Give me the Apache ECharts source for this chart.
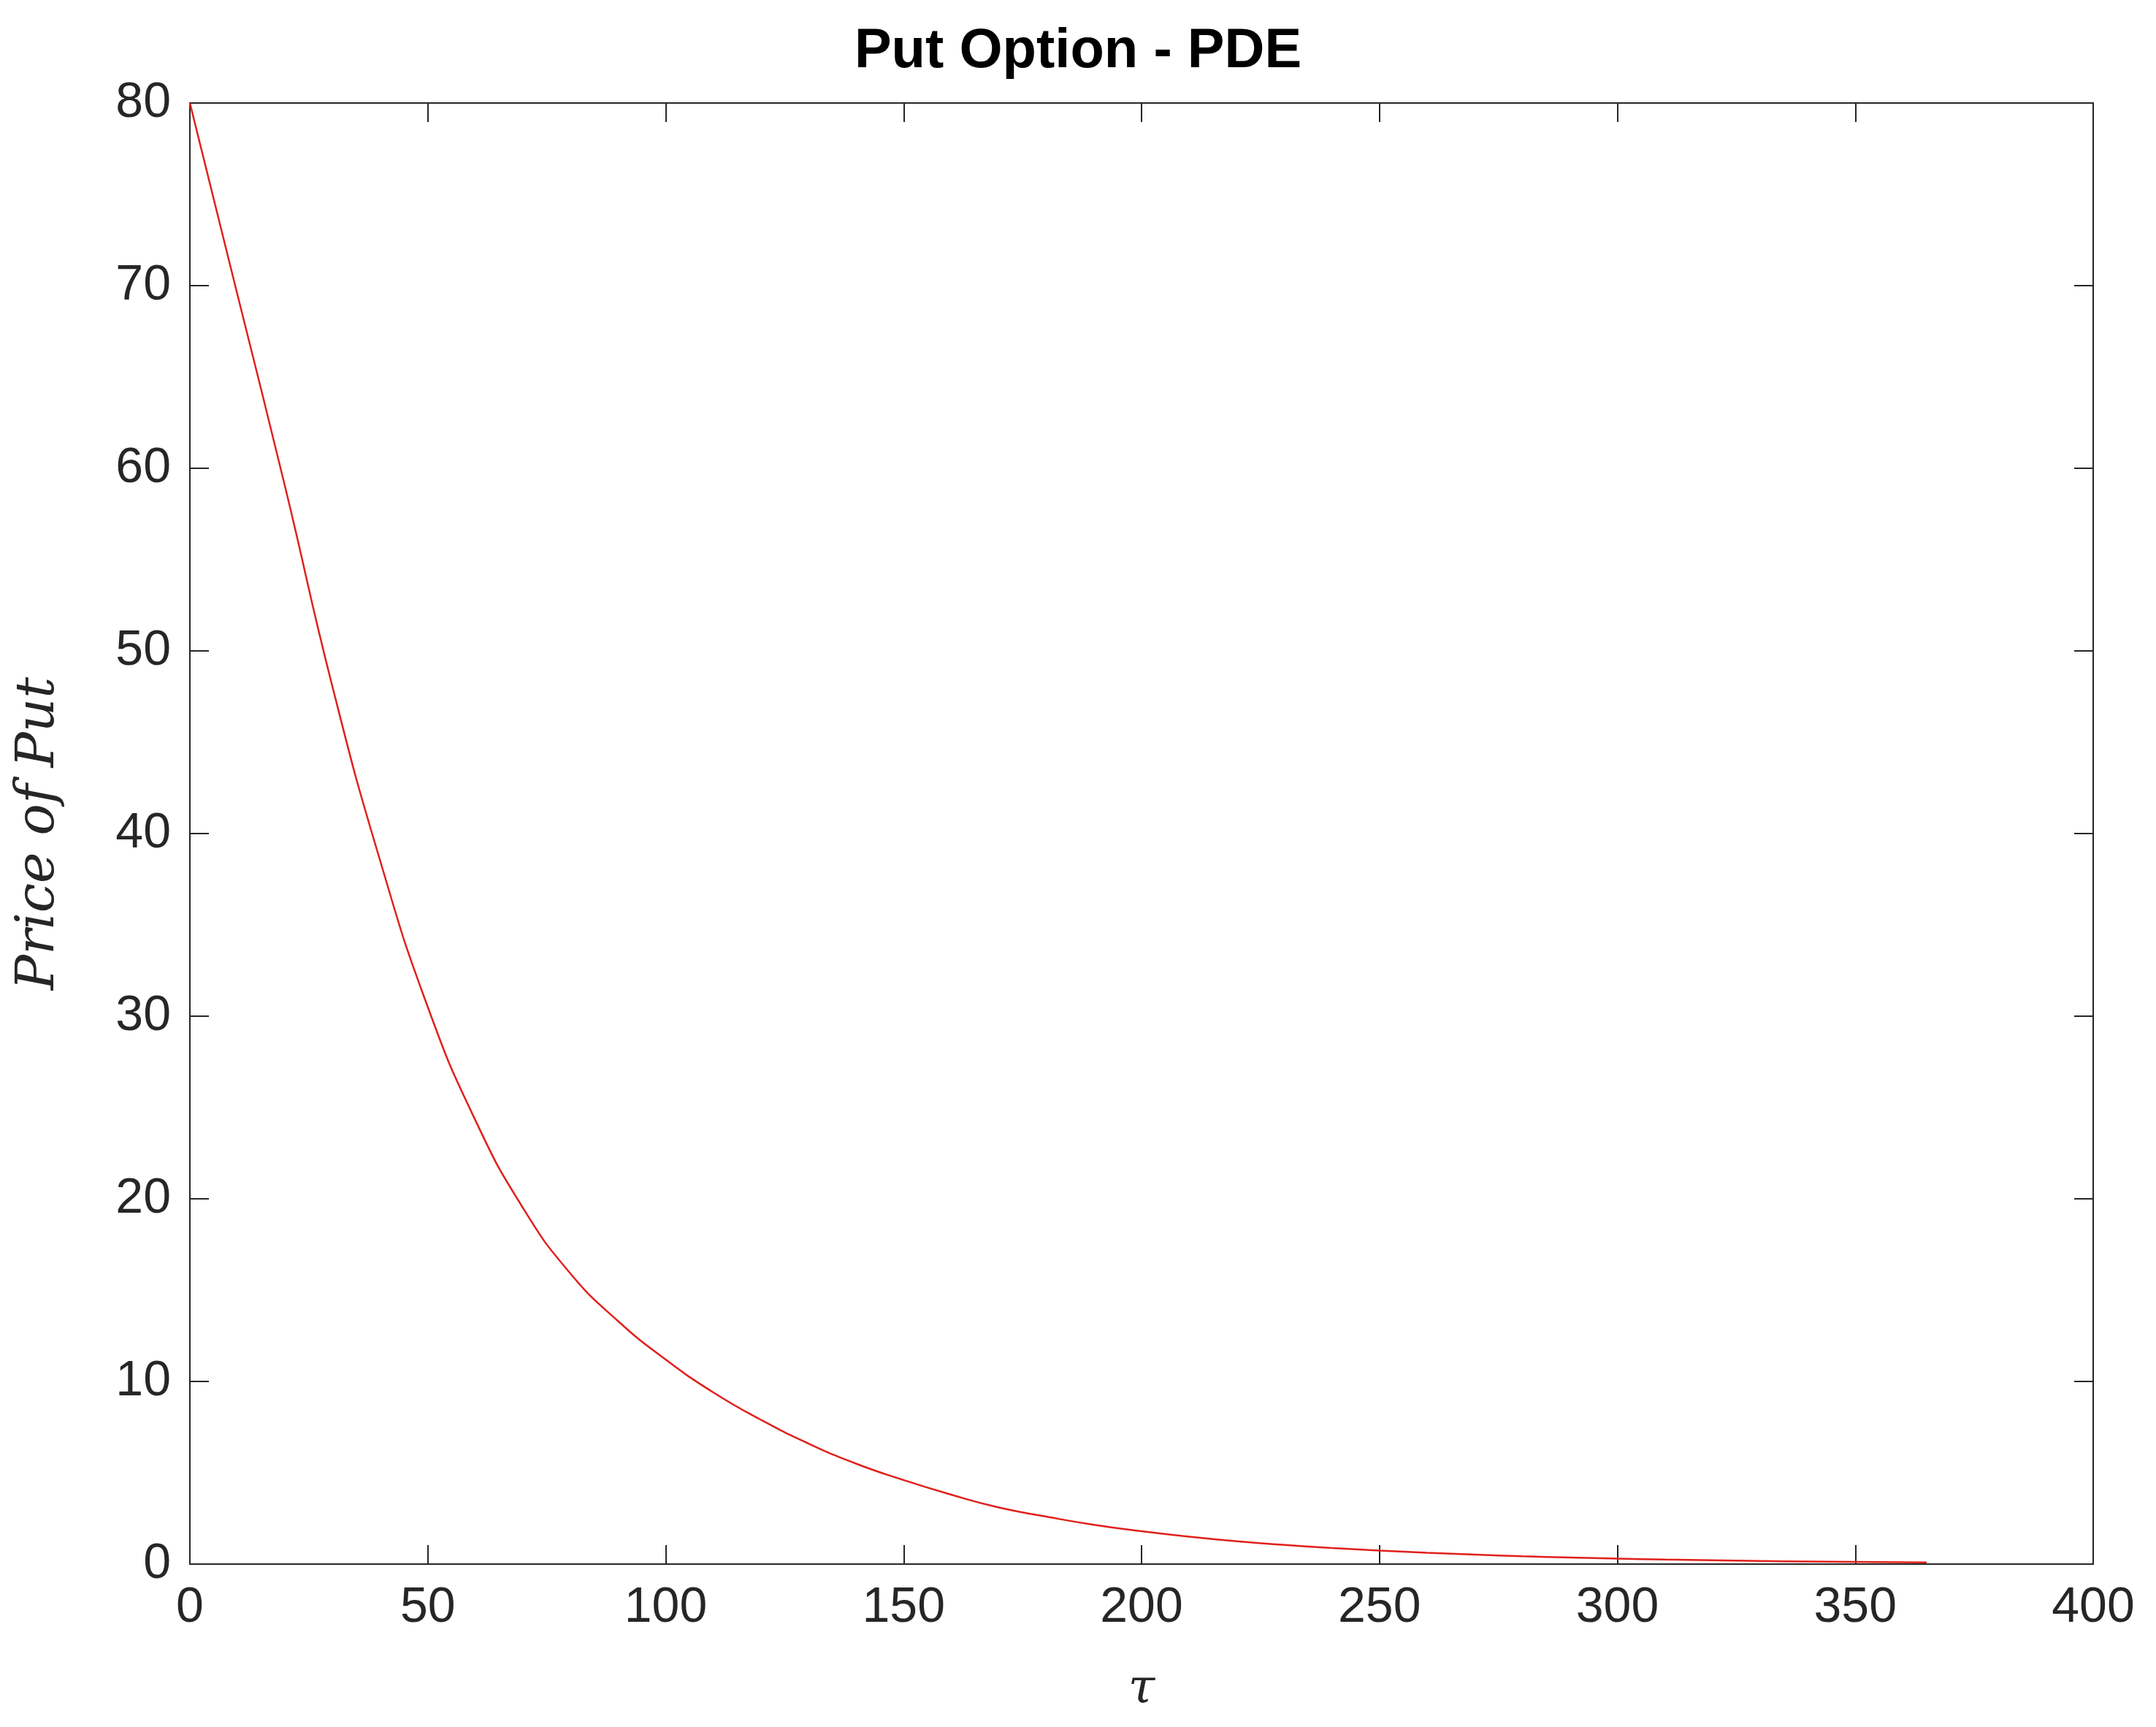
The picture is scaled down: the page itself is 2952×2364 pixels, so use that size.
<!DOCTYPE html>
<html>
<head>
<meta charset="utf-8">
<script src="https://cdn.jsdelivr.net/npm/echarts@6/dist/echarts.min.js"></script>
<style>html,body{margin:0;background:#fff}#c{width:2952px;height:2364px}</style>
</head>
<body>
<div id="c"></div>
<script>
// values
const tau = [0, 10, 20, 30, 40, 50, 60, 70, 80, 90, 100, 110, 120, 130, 140, 150, 160, 170, 180, 190,
  200, 210, 220, 230, 240, 250, 260, 270, 280, 290, 300, 310, 320, 330, 340, 350, 360, 365];
const price = [80, 69.5, 59, 48, 38.5, 30.5, 24.3, 19.5, 15.9, 13.3, 11.2, 9.4, 7.9, 6.6, 5.5, 4.6, 3.8, 3.1, 2.6, 2.15,
  1.8, 1.5, 1.25, 1.05, 0.88, 0.74, 0.62, 0.52, 0.43, 0.36, 0.3, 0.25, 0.21, 0.17, 0.14, 0.12, 0.1, 0.09];

const chart = echarts.init(document.getElementById('c'));
const tickStyle = { inside: true, length: 26, lineStyle: { color: '#262626', width: 2 } };
const lineStyle = { onZero: false, lineStyle: { color: '#262626', width: 2 } };
const labelStyle = { fontSize: 68, color: '#262626', fontFamily: 'Liberation Sans', margin: 26 };

chart.setOption({
  animation: false,
  title: {
    text: 'Put Option - PDE', left: 'center', top: 28,
    textStyle: { fontSize: 76, fontWeight: 'bold', color: '#000', fontFamily: 'Liberation Sans' }
  },
  grid: { left: 260, right: 86, top: 141, bottom: 223 },
  xAxis: [
    { type: 'value', min: 0, max: 400, interval: 50, axisLine: lineStyle, axisTick: tickStyle,
      axisLabel: labelStyle, splitLine: { show: false },
      name: 'τ', nameLocation: 'middle', nameGap: 140,
      nameTextStyle: { fontSize: 66, fontStyle: 'italic', fontFamily: 'DejaVu Serif', color: '#262626' } },
    { type: 'value', position: 'top', min: 0, max: 400, interval: 50, axisLine: lineStyle,
      axisTick: tickStyle, axisLabel: { show: false }, splitLine: { show: false } }
  ],
  yAxis: [
    { type: 'value', min: 0, max: 80, interval: 10, axisLine: lineStyle, axisTick: tickStyle,
      axisLabel: labelStyle, splitLine: { show: false },
      name: 'Price of Put', nameLocation: 'middle', nameGap: 170,
      nameTextStyle: { fontSize: 72, fontStyle: 'italic', fontFamily: 'DejaVu Serif', color: '#262626' } },
    { type: 'value', position: 'right', min: 0, max: 80, interval: 10, axisLine: lineStyle,
      axisTick: tickStyle, axisLabel: { show: false }, splitLine: { show: false } }
  ],
  series: [{
    type: 'line', smooth: 0.5, showSymbol: false,
    data: tau.map((t, i) => [t, price[i]]),
    lineStyle: { color: '#e0201b', width: 2.5 }
  }]
});
</script>
</body>
</html>
